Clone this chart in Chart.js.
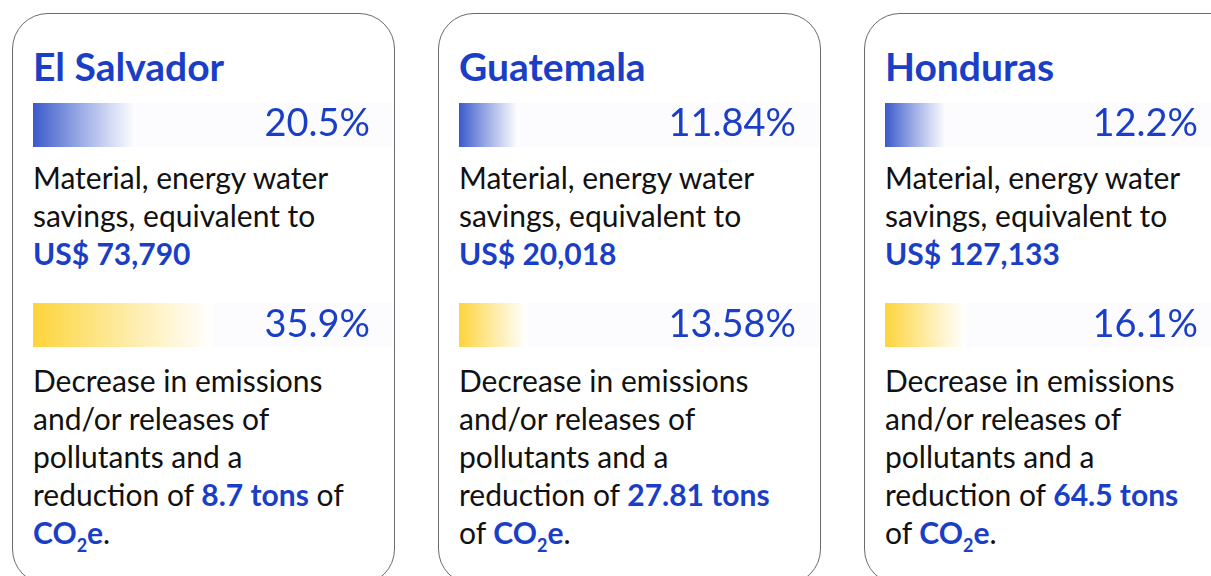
<!DOCTYPE html>
<html>
<head>
<meta charset="utf-8">
<script src="https://cdn.jsdelivr.net/npm/chart.js@4"></script>
<style>
  html, body { margin: 0; padding: 0; background: #fff; }
  body { width: 1211px; height: 576px; position: relative; overflow: hidden; font-family: Lato, "Noto Sans", sans-serif; }
  .card { position: absolute; top: 13px; width: 383px; height: 572px; box-sizing: border-box;
          border: 1.5px solid #6b6b6b; border-radius: 36px; }
  .title { position: absolute; left: 20px; top: 33px; font-size: 39px; font-weight: 700; color: #1a3ec6; line-height: 1; }
  .bar { position: absolute; left: 20px; width: 360px; height: 44px; background: #fcfcfe; }
  .pct { position: absolute; font-size: 38px; color: #1a3ec6; line-height: 1; }
  .txt { position: absolute; left: 20px; font-size: 30px; line-height: 38px; color: #111; }
  .hl { color: #1a3ec6; font-weight: 700; }
  sub { font-size: 18px; vertical-align: -8px; line-height: 0; }
</style>
</head>
<body>
<script>
// Values
const countries = ['El Salvador', 'Guatemala', 'Honduras'];
const savingsPct = [20.5, 11.84, 12.2];      // material, energy, water savings (%)
const emissionsPct = [35.9, 13.58, 16.1];    // decrease in emissions (%)
const savingsUsd = ['US$ 73,790', 'US$ 20,018', 'US$ 127,133'];
const tonsCO2 = ['8.7 tons', '27.81 tons', '64.5 tons'];

const cardLeft = [12, 438, 864];
const pctRight = [24, 24, 48];   // third card is cropped by the page edge

function makeBar(canvas, label, value, color) {
  return new Chart(canvas, {
    type: 'bar',
    data: {
      labels: [label],
      datasets: [{
        data: [value],
        borderWidth: 0,
        barPercentage: 1,
        categoryPercentage: 1,
        backgroundColor: (c) => {
          const chart = c.chart;
          const area = chart.chartArea;
          if (!area || !chart.scales.x) return color;
          const end = chart.scales.x.getPixelForValue(value);
          const g = chart.ctx.createLinearGradient(area.left, 0, end, 0);
          g.addColorStop(0, color);
          g.addColorStop(1, 'rgba(255,255,255,0.9)');
          return g;
        }
      }]
    },
    options: {
      indexAxis: 'y',
      responsive: false,
      animation: false,
      layout: { padding: 0 },
      scales: {
        x: { display: false, min: 0, max: 72 },
        y: { display: false }
      },
      plugins: { legend: { display: false }, tooltip: { enabled: false } }
    }
  });
}

countries.forEach((name, i) => {
  const card = document.createElement('div');
  card.className = 'card';
  card.style.left = cardLeft[i] + 'px';
  const co2 = '<span class="hl">CO<sub>2</sub>e</span>.';
  const lastLines = i === 0
    ? 'reduction of <span class="hl">' + tonsCO2[i] + '</span> of<br>' + co2
    : 'reduction of <span class="hl">' + tonsCO2[i] + '</span><br>of ' + co2;
  card.innerHTML =
    '<div class="title">' + name + '</div>' +
    '<canvas class="bar" id="s' + i + '" width="360" height="44" style="top:89px"></canvas>' +
    '<div class="pct" style="top:88px;right:' + pctRight[i] + 'px">' + savingsPct[i] + '%</div>' +
    '<div class="txt" style="top:144px">Material, energy water<br>savings, equivalent to<br><span class="hl">' + savingsUsd[i] + '</span></div>' +
    '<canvas class="bar" id="e' + i + '" width="360" height="44" style="top:289px"></canvas>' +
    '<div class="pct" style="top:289px;right:' + pctRight[i] + 'px">' + emissionsPct[i] + '%</div>' +
    '<div class="txt" style="top:347px">Decrease in emissions<br>and/or releases of<br>pollutants and a<br>' + lastLines + '</div>';
  document.body.appendChild(card);
  makeBar(document.getElementById('s' + i), name, savingsPct[i], '#3a5acb');
  makeBar(document.getElementById('e' + i), name, emissionsPct[i], '#fdd43a');
});
</script>
</body>
</html>
